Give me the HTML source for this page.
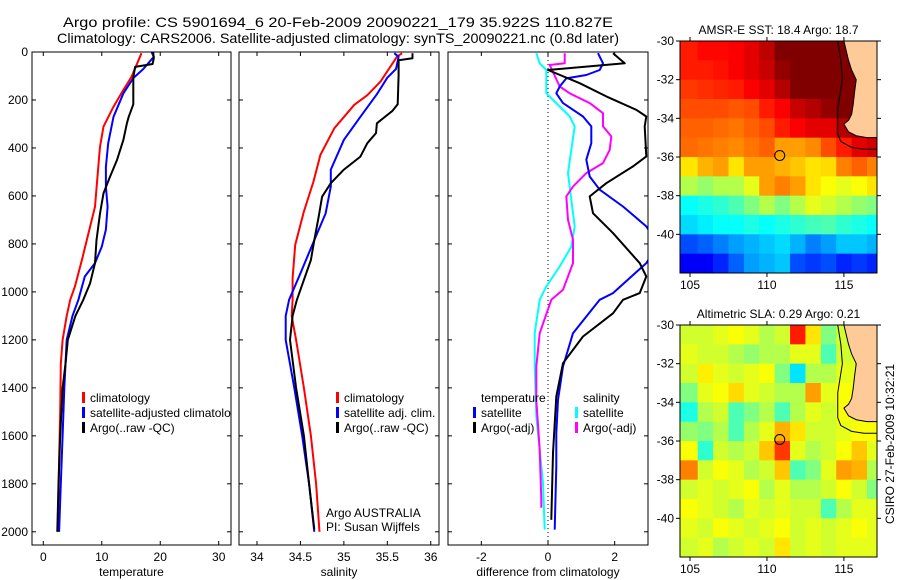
<!DOCTYPE html>
<html><head><meta charset="utf-8"><style>
html,body{margin:0;padding:0;background:#fff;}
svg{display:block;font-family:"Liberation Sans",sans-serif;}
text{font-size:12px;fill:#000;}
</style></head><body>
<svg id="fig" width="900" height="580" viewBox="0 0 900 580">
<rect width="900" height="580" fill="#fff"/>
<text x="338" y="27" text-anchor="middle" style="font-size:14px" textLength="550" lengthAdjust="spacingAndGlyphs">Argo profile: CS 5901694_6 20-Feb-2009 20090221_179 35.922S 110.827E</text>
<text x="338" y="43" text-anchor="middle" style="font-size:14px" textLength="562" lengthAdjust="spacingAndGlyphs">Climatology: CARS2006. Satellite-adjusted climatology: synTS_20090221.nc (0.8d later)</text>
<g id="layer"></g>
</svg>
<script>
// ---------- profile data (depth m) ----------
const tClimDepth=[5,103,158,228,311,395,478,645,728,867,978,1033,1100,1200,1300,1500,1700,2000];
const tClimVal=[16.8,15.1,13.7,12.0,10.3,9.7,9.4,8.85,8.0,6.6,5.4,4.6,4.0,3.3,3.0,2.9,2.7,2.5];
const tSatDepth=[0,20,71,109,172,270,380,478,561,645,740,811,880,936,1033,1100,1200,1300,1400,1600,1800,2000];
const tSatVal=[18.5,18.9,17.1,15.4,13.7,12.0,11.1,10.7,10.7,11.0,10.7,10.0,8.85,7.1,6.0,5.0,4.0,3.8,3.6,3.3,3.0,2.7];
const tArgoDepth=[0,26,50,62,107,218,270,297,366,450,520,589,673,784,880,964,1033,1100,1200,1300,1400,1600,1800,2000];
const tArgoVal=[18.8,18.9,18.7,15.7,15.4,15.4,14.6,14.3,13.7,12.6,11.4,10.3,9.7,9.1,8.85,8.0,6.85,5.5,4.2,3.8,3.3,2.9,2.6,2.4];

const sClimDepth=[5,20,124,180,220,318,429,540,665,804,943,1033,1100,1200,1400,1600,1800,2000];
const sClimVal=[35.67,35.61,35.42,35.27,35.12,34.89,34.73,34.65,34.54,34.44,34.41,34.41,34.40,34.45,34.54,34.62,34.68,34.72];
const sSatDepth=[5,20,71,107,176,270,366,490,561,673,784,923,1033,1100,1200,1400,1600,1800,2000];
const sSatVal=[35.58,35.63,35.60,35.50,35.38,35.19,35.0,34.85,34.85,34.79,34.66,34.50,34.37,34.33,34.33,34.43,34.52,34.60,34.66];
const sArgoDepth=[5,26,34,97,218,245,297,338,380,436,490,547,603,686,784,867,1033,1100,1200,1400,1600,1800,1990];
const sArgoVal=[35.79,35.79,35.63,35.63,35.62,35.56,35.38,35.37,35.27,35.19,35.0,34.85,34.75,34.71,34.66,34.62,34.46,34.41,34.38,34.45,34.54,34.60,34.66];

const dTsatDepth=[5,47,75,96,110,144,172,213,269,310,380,449,519,574,644,727,800,880,1005,1033,1172,1311,1450,1589,1727,1991];
const dTsatVal=[1.5,1.65,1.55,1.15,0.55,0.35,0.25,0.45,1.05,1.3,1.3,1.15,1.25,1.55,2.25,2.95,3.3,2.95,1.95,1.55,0.75,0.45,0.3,0.25,0.25,0.2];
const dTargoDepth=[5,47,75,130,185,241,269,310,435,477,547,602,672,755,880,936,1005,1033,1089,1186,1297,1436,1672,1950];
const dTargoVal=[1.95,2.3,0.0,0.95,1.75,2.65,2.95,2.9,2.95,2.55,1.75,1.25,1.35,1.95,2.75,2.95,2.75,2.25,1.95,1.05,0.45,0.25,0.15,0.1];
const dSsatDepth=[5,47,75,172,213,269,310,408,505,616,727,811,894,977,1033,1172,1311,1519,1658,1797,1991];
const dSsatVal=[-0.35,-0.25,-0.05,-0.05,0.25,0.65,0.8,0.7,0.6,0.7,0.8,0.7,0.35,-0.05,-0.25,-0.4,-0.4,-0.35,-0.25,-0.15,-0.1];
const dSargoDepth=[5,47,54,144,172,213,255,310,352,408,463,505,561,602,700,783,880,991,1033,1172,1311,1450,1658,1866,1900];
const dSargoVal=[0.5,0.5,0.05,0.35,0.65,1.25,1.65,1.65,1.9,1.85,1.65,1.15,0.75,0.55,0.6,0.75,0.75,0.45,0.1,-0.25,-0.35,-0.35,-0.25,-0.2,-0.2];

const depthTicks=[0,200,400,600,800,1000,1200,1400,1600,1800,2000];
const tTicks=[0,10,20,30];
const sTicks=[34,34.5,35,35.5,36];
const dTicks=[-2,0,2];

// ---------- map data (1-degree cells, rows lat -30.5 .. -41.5, cols lon 105 .. 117) ----------
const mapLons=[105,106,107,108,109,110,111,112,113,114,115,116,117];
const mapLats=[-30.5,-31.5,-32.5,-33.5,-34.5,-35.5,-36.5,-37.5,-38.5,-39.5,-40.5,-41.5];
const sst=[
[20.5,20.7,20.7,20.8,21,21.4,22.2,22.3,22.3,22.3,22.3,22.3,22.3],
[20.5,20.5,20.6,20.8,21,21.3,21.8,22.2,22.3,22.3,22.3,22.3,22.3],
[20.2,20.3,20.4,20.5,20.8,21,21.5,22,22.1,22.3,22.3,22.3,22.3],
[20,20,20,19.9,20,20.5,20.8,21.3,21.5,21.8,22.3,22.3,22.3],
[19.8,19.8,19.7,19.6,19.8,20,20.5,20.8,21,21,21.5,21.6,21.6],
[19.7,19.6,19.5,19.4,19.6,19.8,19.2,19.2,19.4,20,20.5,21,21.2],
[18.5,19,19.2,18.5,19.2,19.2,19,18.8,18.5,18.6,19.5,19.8,19.5],
[17.5,17.2,17.5,17.5,18,19.2,19.5,19.2,18.5,18.2,18,18.2,18.5],
[15.8,16,16.2,16.5,17,17.5,17,17.5,18,17.8,17.5,17.2,17],
[15.4,15.6,15.8,15.8,16,15.8,16,16.2,16.4,16.5,16.2,16,15.8],
[14,14.2,14.5,14.8,15,15.2,15.4,15,14.5,14.8,15.2,15.2,15],
[13.2,13.2,13.6,14.2,14.8,15,15.2,14,13.8,14,13.6,13.8,13.6]];
const sla=[
[.08,.08,.10,.12,.10,.05,.08,.35,.15,0,.08,.10,.10],
[.10,.08,.08,.05,.02,.05,.05,.10,.10,-.05,.08,.10,.10],
[.08,.14,.10,.08,.10,.12,0,-.15,.05,.05,.10,.10,.10],
[0,.10,.12,.16,.10,.08,.05,.05,.22,.10,.12,.10,.10],
[-.10,.05,.08,-.05,0,.05,-.05,.05,.10,.08,.12,.10,.10],
[.02,0,.05,-.05,.05,.10,.20,.15,.08,.08,.10,.12,.12],
[.12,-.08,.08,.05,.08,.18,.32,.10,.05,.08,.12,.18,.10],
[.25,.08,.12,.10,.05,.08,.18,-.05,0,.10,.22,.20,.05],
[.08,.10,.08,.10,.12,.05,.10,.05,.05,.08,.12,.08,0],
[.12,.10,.08,.05,.10,.08,.10,.08,.08,-.05,.05,.10,.10],
[.10,.08,.12,.10,.08,.10,.12,.08,.10,.08,.10,.12,.10],
[.08,.10,.05,.08,.10,.08,.15,.08,.10,.08,.10,.10,.10]];
const coastLon=[115.0,115.3,115.5,115.8,115.7,115.6,115.5,115.3,115.0,115.3,115.8,116.5,117.2];
const coastLat=[-30,-31,-31.5,-32,-32.6,-33.3,-33.8,-34.1,-34.3,-34.7,-34.9,-35.0,-35.0];
const shelfLon=[114.6,114.8,114.9,114.7,114.6,114.6,114.8,115.5,116.3,117.2];
const shelfLat=[-30,-31,-32,-33,-33.5,-34.8,-35.2,-35.5,-35.6,-35.6];
const floatLon=110.83, floatLat=-35.92;

const NS='http://www.w3.org/2000/svg';
const layer=document.getElementById('layer');
function mk(tag,attrs,parent){const e=document.createElementNS(NS,tag);for(const k in attrs)e.setAttribute(k,attrs[k]);(parent||layer).appendChild(e);return e;}

const yTop=52, pxPerM=0.2399, yBot=545;
function yD(d){return yTop+d*pxPerM;}

function panel(name,x0,x1,xmin,xmax,ticks,fmt,label,showY){
  const sx=v=>x0+(v-xmin)/(xmax-xmin)*(x1-x0);
  const g=mk('g',{});
  
  
  const cid='clip-'+name;
  const cp=mk('clipPath',{id:cid},g);mk('rect',{x:x0,y:yTop,width:x1-x0,height:yBot-yTop},cp);
  const plot=mk('g',{'clip-path':'url(#'+cid+')'},g);
  depthTicks.forEach(d=>{
    const y=yD(d);
    mk('line',{x1:x0,y1:y,x2:x0+4,y2:y,stroke:'#000'},g);
    mk('line',{x1:x1-4,y1:y,x2:x1,y2:y,stroke:'#000'},g);
    if(showY){const t=mk('text',{x:x0-4,y:y+4,'text-anchor':'end'},g);t.textContent=d;
      
      }
  });
  ticks.forEach(v=>{
    const x=sx(v);
    mk('line',{x1:x,y1:yTop,x2:x,y2:yTop+4,stroke:'#000'},g);
    mk('line',{x1:x,y1:yBot-4,x2:x,y2:yBot,stroke:'#000'},g);
    const t=mk('text',{x:x,y:yBot+16,'text-anchor':'middle'},g);t.textContent=fmt(v);
    
    
  });
  const xl=mk('text',{x:(x0+x1)/2,y:yBot+31,'text-anchor':'middle'},g);xl.textContent=label;
  
  
  return {sx,plot,g,x0,x1};
}
function frame(p){mk('rect',{x:p.x0,y:yTop,width:p.x1-p.x0,height:yBot-yTop,fill:'none',stroke:'#000','stroke-width':1},p.g);}
function series(p,name,depths,vals,color,w){
  const pts=depths.map((d,i)=>p.sx(vals[i]).toFixed(1)+','+yD(d).toFixed(1)).join(' ');
  const l=mk('polyline',{points:pts,fill:'none',stroke:color,'stroke-width':w,'stroke-linejoin':'round'},p.plot);
  
  
}
function legend(g,x,y,items){
  items.forEach((it,i)=>{
    const yy=y+i*15;
    if(it.c) mk('rect',{x:x,y:yy-10,width:3,height:11,fill:it.c},g);
    const t=mk('text',{x:x+8,y:yy},g);t.textContent=it.t;
    
    
  });
}

const p1=panel('temperature-panel',32,231,-1.93,32.1,tTicks,v=>v,'temperature',true);
series(p1,'temp-climatology-line',tClimDepth,tClimVal,'#ff0000',2);
series(p1,'temp-satellite-line',tSatDepth,tSatVal,'#0000ff',2);
series(p1,'temp-argo-line',tArgoDepth,tArgoVal,'#000000',2);
legend(p1.plot,82,402,[{c:'#f00',t:'climatology'},{c:'#00f',t:'satellite-adjusted climatology'},{c:'#000',t:'Argo(..raw -QC)'}]);
frame(p1);

const p2=panel('salinity-panel',239,439,33.793,36.095,sTicks,v=>v,'salinity',false);
series(p2,'sal-climatology-line',sClimDepth,sClimVal,'#ff0000',2);
series(p2,'sal-satellite-line',sSatDepth,sSatVal,'#0000ff',2);
series(p2,'sal-argo-line',sArgoDepth,sArgoVal,'#000000',2);
legend(p2.g,336,402,[{c:'#f00',t:'climatology'},{c:'#00f',t:'satellite adj. clim.'},{c:'#000',t:'Argo(..raw -QC)'}]);
const a1=mk('text',{x:326,y:517},p2.g);a1.textContent='Argo AUSTRALIA';


const a2=mk('text',{x:326,y:531},p2.g);a2.textContent='PI: Susan Wijffels';


frame(p2);

const p3=panel('difference-panel',448,648,-3.0,3.0,dTicks,v=>v,'difference from climatology',false);
mk('line',{x1:p3.sx(0),y1:yTop,x2:p3.sx(0),y2:yBot,stroke:'#000','stroke-dasharray':'1,3'},p3.plot);
series(p3,'diff-sal-satellite-line',dSsatDepth,dSsatVal,'#00ffff',2);
series(p3,'diff-sal-argo-line',dSargoDepth,dSargoVal,'#ff00ff',2);
series(p3,'diff-temp-satellite-line',dTsatDepth,dTsatVal,'#0000ff',2);
series(p3,'diff-temp-argo-line',dTargoDepth,dTargoVal,'#000000',2);
legend(p3.g,473,402,[{t:'temperature'},{c:'#00f',t:'satellite'},{c:'#000',t:'Argo(-adj)'}]);
legend(p3.g,575,402,[{t:'salinity'},{c:'#0ff',t:'satellite'},{c:'#f0f',t:'Argo(-adj)'}]);
frame(p3);

// ---------- maps ----------
function jet(f){f=Math.max(0,Math.min(1,f));
  const r=Math.max(0,Math.min(1,Math.min(4*f-1.5,-4*f+4.5)));
  const g=Math.max(0,Math.min(1,Math.min(4*f-0.5,-4*f+3.5)));
  const b=Math.max(0,Math.min(1,Math.min(4*f+0.5,-4*f+2.5)));
  return 'rgb('+Math.round(r*255)+','+Math.round(g*255)+','+Math.round(b*255)+')';}
function mapPanel(name,y0,y1,grid,vmin,vmax,title){
  const x0=680,x1=877,lonMin=104.35,lonMax=117.15,latMax=-30,latMin=-42;
  const sx=lon=>x0+(lon-lonMin)/(lonMax-lonMin)*(x1-x0);
  const sy=lat=>y0+(latMax-lat)/(latMax-latMin)*(y1-y0);
  const g=mk('g',{});
  
  
  const cid='clip-'+name;
  const cp=mk('clipPath',{id:cid},g);mk('rect',{x:x0,y:y0,width:x1-x0,height:y1-y0},cp);
  const pl=mk('g',{'clip-path':'url(#'+cid+')'},g);
  grid.forEach((row,i)=>row.forEach((v,j)=>{
    const xa=sx(mapLons[j]-0.5)-(j===0?10:0),xb=sx(mapLons[j]+0.5),ya=sy(mapLats[i]+0.5),yb=sy(mapLats[i]-0.5);
    const c=mk('rect',{x:xa,y:ya,width:xb-xa+0.6,height:yb-ya+0.6,fill:jet((v-vmin)/(vmax-vmin))},pl);
    
    
  }));
  const land='M'+sx(coastLon[0])+','+sy(coastLat[0])+' '+coastLon.map((l,i)=>'L'+sx(l)+','+sy(coastLat[i])).join(' ')+' L'+(x1+5)+','+sy(coastLat[coastLat.length-1])+' L'+(x1+5)+','+(y0-5)+' Z';
  const lp=mk('path',{d:land,fill:'#fdca98',stroke:'#000','stroke-width':1},pl);
  
  
  const sh=mk('polyline',{points:shelfLon.map((l,i)=>sx(l)+','+sy(shelfLat[i])).join(' '),fill:'none',stroke:'#000','stroke-width':1},pl);
  
  
  const fc=mk('circle',{cx:sx(floatLon),cy:sy(floatLat),r:5,fill:'none',stroke:'#000','stroke-width':1},pl);
  
  
  mk('rect',{x:x0,y:y0,width:x1-x0,height:y1-y0,fill:'none',stroke:'#000'},g);
  [105,110,115].forEach(l=>{const x=sx(l);
    mk('line',{x1:x,y1:y0,x2:x,y2:y0-4,stroke:'#000'},g);mk('line',{x1:x,y1:y1,x2:x,y2:y1+4,stroke:'#000'},g);
    const t=mk('text',{x:x,y:y1+16,'text-anchor':'middle'},g);t.textContent=l;
    
    });
  [-30,-32,-34,-36,-38,-40].forEach(l=>{const y=sy(l);
    mk('line',{x1:x0,y1:y,x2:x0-4,y2:y,stroke:'#000'},g);mk('line',{x1:x1,y1:y,x2:x1+4,y2:y,stroke:'#000'},g);
    const t=mk('text',{x:x0-6,y:y+4,'text-anchor':'end'},g);t.textContent=l;
    
    });
  const tt=mk('text',{x:(x0+x1)/2,y:y0-7,'text-anchor':'middle'},g);tt.textContent=title;
  
  
}
mapPanel('sst-map',41,273,sst,12,22,'AMSR-E SST: 18.4 Argo: 18.7');
mapPanel('sla-map',325,557,sla,-0.5,0.5,'Altimetric SLA: 0.29 Argo: 0.21');
const ts=mk('text',{x:0,y:0,transform:'translate(894,444) rotate(-90)','text-anchor':'middle'});
ts.textContent='CSIRO 27-Feb-2009 10:32:21';


</script>
</body></html>
